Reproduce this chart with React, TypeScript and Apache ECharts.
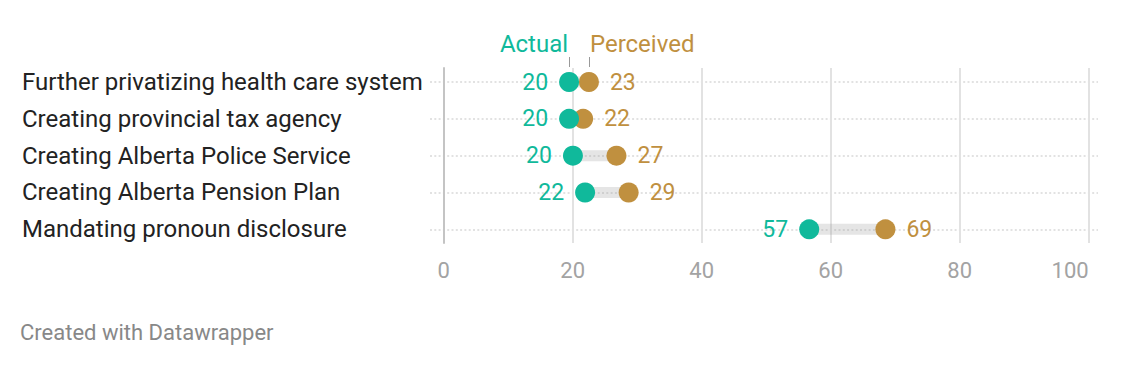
import React, { useEffect, useRef } from "react";
import * as echarts from "echarts";

const categories = [
  "Further privatizing health care system",
  "Creating provincial tax agency",
  "Creating Alberta Police Service",
  "Creating Alberta Pension Plan",
  "Mandating pronoun disclosure",
];
const actual = [19.6, 19.6, 20.2, 22.1, 57.1];
const perceived = [22.7, 21.8, 27.0, 28.9, 69.0];
const xTicks = [0, 20, 40, 60, 80, 100];
const legendNames = ["Actual", "Perceived"];
const footer = "Created with Datawrapper";

const TEAL = "#10b99b";
const GOLD = "#c0903f";
const FONT = "Roboto";

export default function App() {
  const ref = useRef<HTMLDivElement>(null);
  useEffect(() => {
    if (!ref.current) return;
    const chart = echarts.init(ref.current, null, { renderer: "svg" });
    const option: any = {
      animation: false,
      backgroundColor: "#ffffff",
      textStyle: { fontFamily: FONT },
      grid: [
        { left: 443.7, right: 51.3, top: 68, bottom: 123 },
        { left: 430, right: 42, top: 82, bottom: 136.7 },
      ],
      xAxis: [
        {
          gridIndex: 0,
          type: "value",
          min: xTicks[0],
          max: xTicks[xTicks.length - 1],
          interval: 20,
          axisLine: { show: false },
          axisTick: { show: false },
          axisLabel: {
            color: "#a3a3a3",
            fontSize: 22,
            margin: 16,
            fontFamily: FONT,
            alignMaxLabel: "right",
          },
          splitLine: { show: true, lineStyle: { color: "#e2e2e2", width: 2 } },
        },
        {
          gridIndex: 1,
          type: "value",
          min: -2.12,
          max: 102.2,
          show: false,
        },
      ],
      yAxis: [
        {
          gridIndex: 0,
          type: "value",
          min: 0,
          max: 1,
          axisLine: { show: true, lineStyle: { color: "#c4c4c4", width: 2 } },
          axisTick: { show: false },
          axisLabel: { show: false },
          splitLine: { show: false },
        },
        {
          gridIndex: 1,
          type: "category",
          data: categories,
          inverse: true,
          boundaryGap: false,
          axisLine: { show: false },
          axisTick: { show: false },
          axisLabel: {
            color: "#222222",
            fontSize: 24,
            fontFamily: FONT,
            align: "left",
            margin: 408,
          },
          splitLine: {
            show: true,
            lineStyle: { color: "#d9d9d9", type: [2, 2.3], width: 1.6 },
          },
        },
      ],
      series: [
        {
          type: "custom",
          xAxisIndex: 1,
          yAxisIndex: 1,
          z: 1,
          data: categories.map((c, i) => [actual[i], perceived[i], i]),
          renderItem: (params: any, api: any) => {
            const a = api.coord([api.value(0), api.value(2)]);
            const p = api.coord([api.value(1), api.value(2)]);
            const h = 11;
            return {
              type: "rect",
              shape: { x: Math.min(a[0], p[0]), y: a[1] - h / 2, width: Math.abs(p[0] - a[0]), height: h },
              style: { fill: "rgba(150,150,150,0.25)" },
            };
          },
        },
        {
          name: legendNames[1],
          type: "scatter",
          xAxisIndex: 1,
          yAxisIndex: 1,
          z: 2,
          symbolSize: 20,
          itemStyle: { color: GOLD, opacity: 1 },
          data: perceived.map((v, i) => [v, i]),
          label: {
            show: true,
            position: "right",
            distance: 11,
            color: GOLD,
            fontSize: 23,
            fontFamily: FONT,
            formatter: (p: any) => String(Math.round(p.value[0])),
          },
        },
        {
          name: legendNames[0],
          type: "scatter",
          xAxisIndex: 1,
          yAxisIndex: 1,
          z: 3,
          symbolSize: 20,
          itemStyle: { color: TEAL, opacity: 1 },
          data: actual.map((v, i) => [v, i]),
          label: {
            show: true,
            position: "left",
            distance: 11,
            color: TEAL,
            fontSize: 23,
            fontFamily: FONT,
            formatter: (p: any) => String(Math.round(p.value[0])),
          },
        },
      ],
    };
    chart.setOption(option);

    const pa = chart.convertToPixel({ xAxisIndex: 1, yAxisIndex: 1 }, [actual[0], 0]) as number[];
    const pp = chart.convertToPixel({ xAxisIndex: 1, yAxisIndex: 1 }, [perceived[0], 0]) as number[];
    chart.setOption({
      graphic: [
        {
          type: "text",
          x: pa[0] - 1,
          y: 44,
          style: {
            text: legendNames[0],
            fill: TEAL,
            fontSize: 24,
            fontFamily: FONT,
            align: "right",
            verticalAlign: "middle",
          },
        },
        {
          type: "text",
          x: pp[0] + 1,
          y: 44,
          style: {
            text: legendNames[1],
            fill: GOLD,
            fontSize: 24,
            fontFamily: FONT,
            align: "left",
            verticalAlign: "middle",
          },
        },
        {
          type: "line",
          shape: { x1: Math.round(pa[0]) + 0.5, y1: 57, x2: Math.round(pa[0]) + 0.5, y2: 67 },
          style: { stroke: "#999999", lineWidth: 1 },
        },
        {
          type: "line",
          shape: { x1: Math.round(pp[0]) + 0.5, y1: 57, x2: Math.round(pp[0]) + 0.5, y2: 67 },
          style: { stroke: "#999999", lineWidth: 1 },
        },
        {
          type: "text",
          x: 20,
          y: 332,
          style: {
            text: footer,
            fill: "#888888",
            fontSize: 22,
            fontFamily: FONT,
            align: "left",
            verticalAlign: "middle",
          },
        },
      ],
    });
    return () => chart.dispose();
  }, []);
  return (
    <div
      ref={ref}
      style={{ position: "fixed", left: 0, top: 0, width: 1140, height: 366 }}
    />
  );
}
